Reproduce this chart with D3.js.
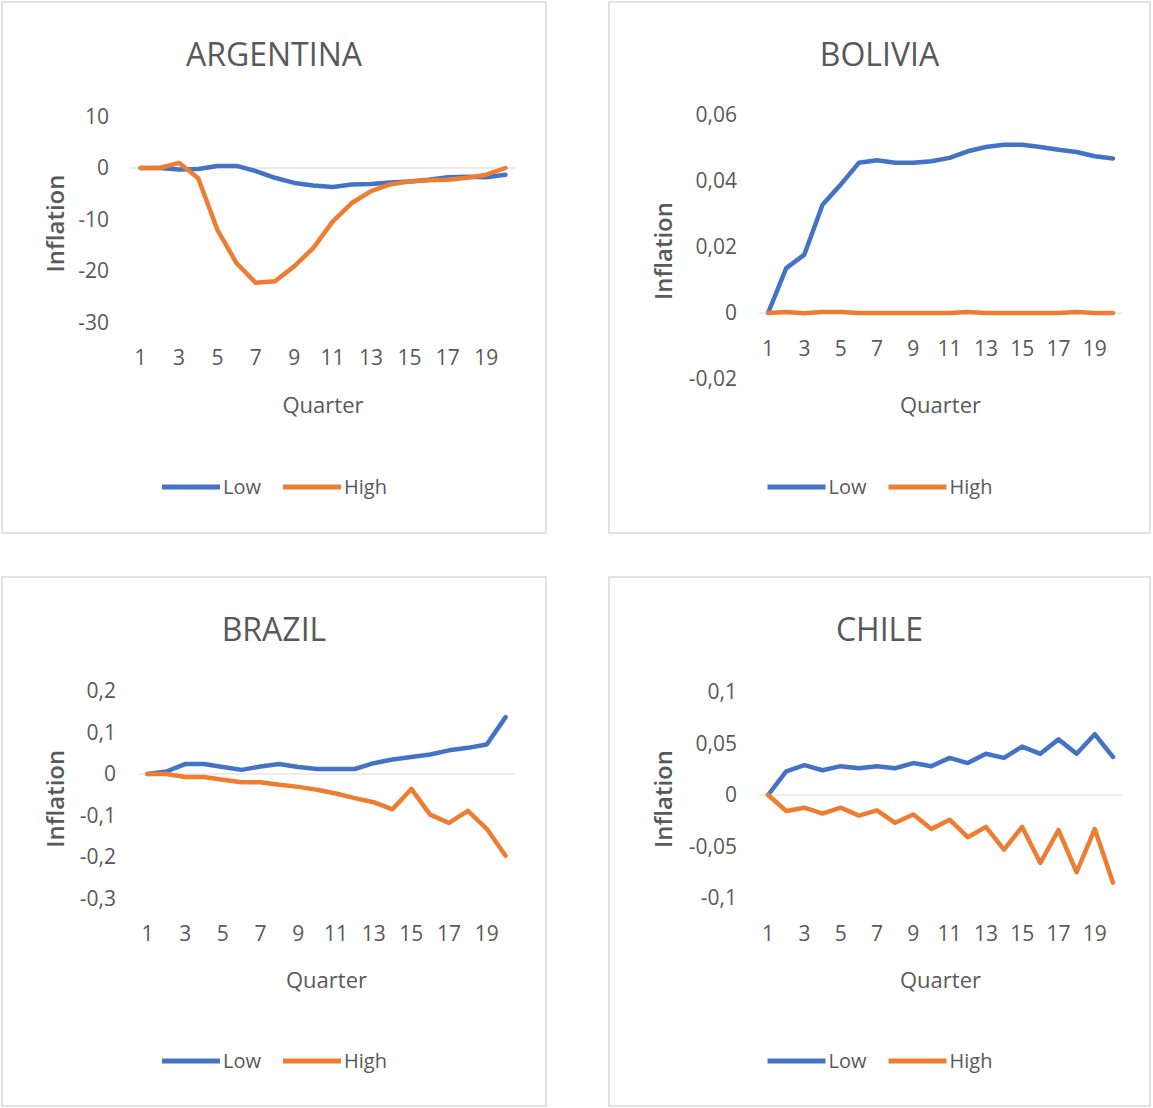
<!DOCTYPE html>
<html>
<head>
<meta charset="utf-8">
<script src="https://cdn.jsdelivr.net/npm/d3@7"></script>
<style>
  body { margin: 0; background: #fff; }
  text { font-family: "Open Sans", "Noto Sans", sans-serif; fill: #595959; }
</style>
</head>
<body>
<div id="charts"></div>
<script>
// categories
var quarters = [1,2,3,4,5,6,7,8,9,10,11,12,13,14,15,16,17,18,19,20];
var quarterTicks = [1,3,5,7,9,11,13,15,17,19];
var seriesNames = ["Low", "High"];

// ARGENTINA
var argLow  = [0, 0, -0.3, -0.2, 0.4, 0.4, -0.6, -1.9, -2.9, -3.4, -3.7, -3.2, -3.1, -2.8, -2.6, -2.3, -1.8, -1.7, -1.8, -1.3];
var argHigh = [0, 0, 1, -2, -12, -18.5, -22.3, -22, -19.1, -15.5, -10.4, -6.8, -4.5, -3.2, -2.6, -2.4, -2.3, -1.9, -1.3, 0];
var argTicks = [10, 0, -10, -20, -30];
var argTickLabels = ["10", "0", "-10", "-20", "-30"];

// BOLIVIA
var bolLow  = [0, 0.0136, 0.0177, 0.0328, 0.0389, 0.0455, 0.0463, 0.0455, 0.0455, 0.046, 0.047, 0.049, 0.0503, 0.051, 0.051, 0.0503, 0.0495, 0.0488, 0.0475, 0.0468];
var bolHigh = [0, 0.0003, -0.0001, 0.0003, 0.0003, 0, 0, 0, 0, 0, 0, 0.0003, 0, 0, 0, 0, 0, 0.0003, 0, 0];
var bolTicks = [0.06, 0.04, 0.02, 0, -0.02];
var bolTickLabels = ["0,06", "0,04", "0,02", "0", "-0,02"];

// BRAZIL
var braLow  = [0, 0.006, 0.024, 0.024, 0.017, 0.010, 0.018, 0.024, 0.017, 0.012, 0.012, 0.012, 0.026, 0.035, 0.041, 0.047, 0.057, 0.063, 0.071, 0.137];
var braHigh = [0, 0, -0.007, -0.007, -0.014, -0.02, -0.02, -0.026, -0.031, -0.038, -0.047, -0.058, -0.068, -0.085, -0.036, -0.098, -0.118, -0.089, -0.132, -0.197];
var braTicks = [0.2, 0.1, 0, -0.1, -0.2, -0.3];
var braTickLabels = ["0,2", "0,1", "0", "-0,1", "-0,2", "-0,3"];

// CHILE
var chiLow  = [0, 0.023, 0.029, 0.024, 0.028, 0.026, 0.028, 0.026, 0.031, 0.028, 0.036, 0.031, 0.040, 0.036, 0.047, 0.040, 0.054, 0.040, 0.059, 0.037];
var chiHigh = [0, -0.0155, -0.0123, -0.018, -0.0123, -0.02, -0.015, -0.027, -0.019, -0.033, -0.024, -0.041, -0.031, -0.053, -0.031, -0.066, -0.034, -0.075, -0.033, -0.085];
var chiTicks = [0.1, 0.05, 0, -0.05, -0.1];
var chiTickLabels = ["0,1", "0,05", "0", "-0,05", "-0,1"];

var colors = ["#4472C4", "#ED7D31"];

var svg = d3.select("#charts").append("svg")
    .attr("width", 1153)
    .attr("height", 1108);

// one box per country: frame, plot area, label positions
var panels = [
  {title: "ARGENTINA", low: argLow, high: argHigh, ticks: argTicks, labels: argTickLabels,
   box: [2, 2, 544, 531], px: [131, 515], py: [116.5, 322.5], xLabY: 350, legY: 487},
  {title: "BOLIVIA", low: bolLow, high: bolHigh, ticks: bolTicks, labels: bolTickLabels,
   box: [609, 2, 541, 531], px: [759, 1122], py: [115, 379], xLabY: 341, legY: 487},
  {title: "BRAZIL", low: braLow, high: braHigh, ticks: braTicks, labels: braTickLabels,
   box: [2, 577, 544, 529], px: [138, 515], py: [691, 898.5], xLabY: 926, legY: 1061},
  {title: "CHILE", low: chiLow, high: chiHigh, ticks: chiTicks, labels: chiTickLabels,
   box: [609, 577, 541, 529], px: [759, 1122], py: [692, 898], xLabY: 926, legY: 1061}
];

panels.forEach(function(p) {
  var g = svg.append("g");
  var b = p.box;

  g.append("rect")
    .attr("x", b[0]).attr("y", b[1])
    .attr("width", b[2]).attr("height", b[3])
    .attr("fill", "#fff")
    .attr("stroke", "#d9d9d9")
    .attr("stroke-width", 1.5);

  var x = d3.scaleBand().domain(quarters).range(p.px).padding(0);
  var y = d3.scaleLinear()
      .domain([d3.min(p.ticks), d3.max(p.ticks)])
      .range([p.py[1], p.py[0]]);
  var cx = function(d) { return x(d) + x.bandwidth() / 2; };
  var midX = (p.px[0] + p.px[1]) / 2;
  var midBox = b[0] + b[2] / 2;

  // title
  g.append("text")
    .attr("x", midBox).attr("y", b[1] + 64)
    .attr("text-anchor", "middle")
    .attr("font-size", 32)
    .text(p.title);

  // zero line
  g.append("line")
    .attr("x1", p.px[0]).attr("x2", p.px[1])
    .attr("y1", y(0)).attr("y2", y(0))
    .attr("stroke", "#d9d9d9").attr("stroke-width", 1.2);

  // y axis
  var ya = g.append("g")
    .attr("transform", "translate(" + p.px[0] + ",0)")
    .call(d3.axisLeft(y).tickValues(p.ticks).tickSize(0).tickPadding(22)
      .tickFormat(function(d, i) { return p.labels[i]; }));
  ya.select(".domain").remove();
  ya.selectAll("text").attr("font-size", 21).attr("fill", "#595959")
    .style("font-family", "'Open Sans', sans-serif");

  // x axis labels
  var xa = g.append("g")
    .attr("transform", "translate(0," + p.xLabY + ")")
    .call(d3.axisBottom(x).tickValues(quarterTicks).tickSize(0).tickPadding(0));
  xa.select(".domain").remove();
  xa.selectAll("text").attr("font-size", 21).attr("fill", "#595959")
    .style("font-family", "'Open Sans', sans-serif");

  // axis titles
  g.append("text")
    .attr("x", midX).attr("y", b[1] + 411)
    .attr("text-anchor", "middle")
    .attr("font-size", 22)
    .text("Quarter");

  g.append("text")
    .attr("transform", "translate(" + (b[0] + 62 + (b[0] > 300 ? 1 : 0)) + "," + ((p.py[0] + p.py[1]) / 2 + 4) + ") rotate(-90)")
    .attr("text-anchor", "middle")
    .attr("font-size", 24)
    .attr("font-weight", 600)
    .text("Inflation");

  // lines
  var line = d3.line()
    .x(function(d, i) { return cx(quarters[i]); })
    .y(function(d) { return y(d); });

  [p.low, p.high].forEach(function(vals, k) {
    g.append("path")
      .datum(vals)
      .attr("d", line)
      .attr("fill", "none")
      .attr("stroke", colors[k])
      .attr("stroke-width", 4.5)
      .attr("stroke-linejoin", "round")
      .attr("stroke-linecap", "round");
  });

  // legend
  var legX = midBox - 112;
  var offs = [0, 121];
  seriesNames.forEach(function(name, k) {
    var lx = legX + offs[k];
    g.append("line")
      .attr("x1", lx).attr("x2", lx + 58)
      .attr("y1", p.legY).attr("y2", p.legY)
      .attr("stroke", colors[k]).attr("stroke-width", 5);
    g.append("text")
      .attr("x", lx + 61).attr("y", p.legY + 7)
      .attr("font-size", 20)
      .text(name);
  });
});
</script>
</body>
</html>
